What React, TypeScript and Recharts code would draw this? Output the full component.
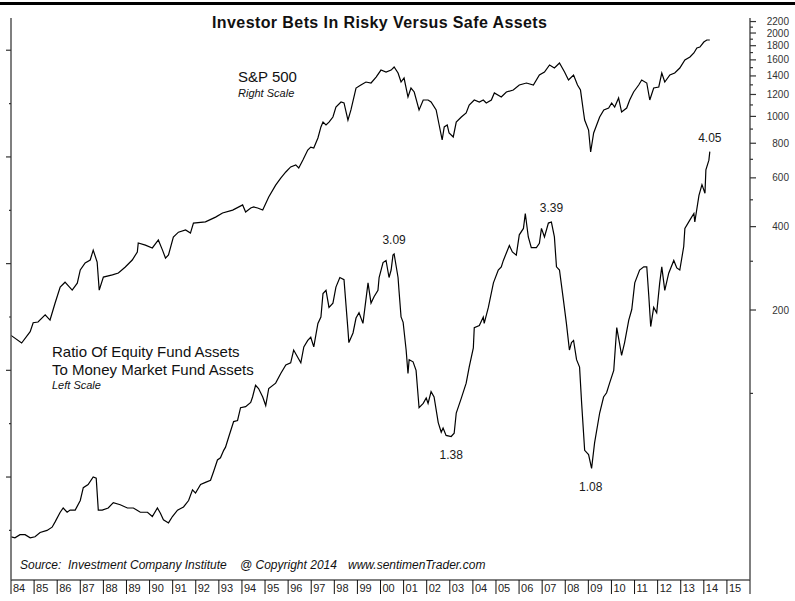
import React from "react";
import { ComposedChart, Line, XAxis, YAxis, ReferenceDot } from "recharts";

if (typeof document !== "undefined") {
  document.body.style.margin = "0";
}

// S&P 500 (right, log scale): [decimal year, index level]
const spxPoints: [number, number][] = [
  [1984.0, 162], [1984.46, 152], [1984.83, 167], [1984.96, 180], [1985.17, 181], [1985.48, 192], [1985.69, 184], [1985.91, 212],
  [1986.13, 242], [1986.34, 252], [1986.65, 236], [1986.87, 250], [1987.0, 279], [1987.21, 296], [1987.43, 303], [1987.56, 329],
  [1987.73, 298], [1987.82, 236], [1988.0, 263], [1988.39, 268], [1988.65, 272], [1988.95, 286], [1989.25, 303], [1989.47, 324],
  [1989.51, 349], [1989.82, 343], [1990.12, 335], [1990.38, 358], [1990.56, 329], [1990.69, 308], [1990.82, 316], [1991.03, 367],
  [1991.25, 382], [1991.56, 389], [1991.77, 379], [1991.9, 412], [1992.42, 416], [1992.86, 433], [1993.16, 448], [1993.6, 459],
  [1994.03, 479], [1994.16, 452], [1994.38, 467], [1994.51, 471], [1994.68, 467], [1994.9, 459], [1995.16, 512], [1995.46, 565],
  [1995.68, 599], [1995.9, 630], [1996.11, 657], [1996.33, 668], [1996.46, 651], [1996.64, 696], [1996.85, 756], [1996.98, 775],
  [1997.11, 769], [1997.29, 836], [1997.42, 916], [1997.51, 954], [1997.64, 931], [1997.77, 954], [1997.94, 995], [1998.07, 1081],
  [1998.29, 1127], [1998.42, 1118], [1998.59, 970], [1998.72, 1055], [1998.94, 1266], [1999.15, 1298], [1999.37, 1331], [1999.59, 1320],
  [1999.81, 1387], [2000.02, 1470], [2000.24, 1446], [2000.46, 1470], [2000.59, 1508], [2000.76, 1434], [2000.89, 1331], [2001.02, 1376],
  [2001.19, 1175], [2001.32, 1266], [2001.46, 1225], [2001.67, 1055], [2001.85, 1146], [2002.06, 1146], [2002.19, 1127], [2002.41, 1055],
  [2002.54, 931], [2002.67, 822], [2002.76, 916], [2002.89, 931], [2002.97, 871], [2003.15, 843], [2003.28, 954], [2003.5, 995],
  [2003.71, 1029], [2003.84, 1099], [2004.06, 1146], [2004.28, 1127], [2004.45, 1146], [2004.58, 1118], [2004.8, 1146], [2004.93, 1215],
  [2005.23, 1175], [2005.45, 1225], [2005.75, 1245], [2006.01, 1298], [2006.32, 1320], [2006.62, 1298], [2006.88, 1411], [2007.1, 1446],
  [2007.32, 1533], [2007.53, 1495], [2007.75, 1559], [2007.97, 1446], [2008.14, 1353], [2008.36, 1411], [2008.53, 1298], [2008.66, 1245],
  [2008.79, 1037], [2008.84, 970], [2009.01, 893], [2009.1, 744], [2009.23, 871], [2009.36, 931], [2009.49, 995], [2009.67, 1055],
  [2009.88, 1072], [2010.01, 1118], [2010.14, 1081], [2010.31, 1165], [2010.44, 1037], [2010.66, 1072], [2010.79, 1146], [2010.96, 1225],
  [2011.18, 1298], [2011.31, 1353], [2011.53, 1320], [2011.66, 1146], [2011.83, 1266], [2012.05, 1277], [2012.18, 1434], [2012.31, 1331],
  [2012.53, 1411], [2012.74, 1434], [2012.96, 1495], [2013.18, 1598], [2013.4, 1638], [2013.57, 1694], [2013.7, 1766], [2013.83, 1780],
  [2014.0, 1856], [2014.13, 1887], [2014.26, 1887],
];

// Ratio of equity fund assets to money market fund assets (left, linear): [decimal year, ratio]
const ratioPoints: [number, number][] = [
  [1984.0, 0.44], [1984.17, 0.43], [1984.39, 0.46], [1984.61, 0.46], [1984.83, 0.43], [1985.04, 0.44], [1985.26, 0.48], [1985.56, 0.5],
  [1985.78, 0.53], [1985.91, 0.58], [1986.13, 0.67], [1986.26, 0.71], [1986.43, 0.67], [1986.56, 0.69], [1986.78, 0.69], [1987.0, 0.78],
  [1987.13, 0.9], [1987.34, 0.93], [1987.56, 1.0], [1987.69, 0.99], [1987.78, 0.69], [1987.95, 0.69], [1988.21, 0.71], [1988.43, 0.76],
  [1988.73, 0.74], [1989.04, 0.71], [1989.3, 0.71], [1989.6, 0.67], [1989.91, 0.67], [1990.12, 0.63], [1990.34, 0.71], [1990.47, 0.66],
  [1990.6, 0.6], [1990.82, 0.57], [1990.99, 0.63], [1991.21, 0.69], [1991.47, 0.72], [1991.69, 0.78], [1991.86, 0.88], [1991.99, 0.85],
  [1992.21, 0.93], [1992.42, 0.95], [1992.64, 0.97], [1992.77, 1.05], [1992.94, 1.16], [1993.07, 1.18], [1993.21, 1.25], [1993.29, 1.28],
  [1993.42, 1.37], [1993.64, 1.52], [1993.81, 1.53], [1993.94, 1.65], [1994.16, 1.66], [1994.38, 1.7], [1994.46, 1.75], [1994.59, 1.86],
  [1994.72, 1.83], [1994.9, 1.75], [1995.03, 1.67], [1995.16, 1.83], [1995.46, 1.88], [1995.68, 1.97], [1995.9, 2.05], [1996.11, 2.07],
  [1996.24, 2.19], [1996.42, 2.12], [1996.55, 2.07], [1996.68, 2.22], [1996.85, 2.28], [1996.98, 2.31], [1997.11, 2.22], [1997.29, 2.44],
  [1997.42, 2.5], [1997.51, 2.72], [1997.64, 2.75], [1997.77, 2.59], [1997.94, 2.63], [1998.07, 2.78], [1998.24, 2.87], [1998.42, 2.85],
  [1998.59, 2.38], [1998.63, 2.26], [1998.81, 2.35], [1998.94, 2.49], [1999.07, 2.54], [1999.24, 2.44], [1999.46, 2.82], [1999.59, 2.63],
  [1999.72, 2.69], [1999.89, 2.75], [1999.94, 2.87], [2000.11, 3.01], [2000.24, 3.03], [2000.37, 2.87], [2000.46, 2.94], [2000.54, 3.08],
  [2000.59, 3.09], [2000.76, 2.87], [2000.8, 2.75], [2000.89, 2.5], [2000.98, 2.45], [2001.11, 2.19], [2001.19, 1.97], [2001.24, 2.1],
  [2001.41, 2.08], [2001.54, 2.0], [2001.67, 1.65], [2001.85, 1.69], [2001.98, 1.74], [2002.06, 1.69], [2002.19, 1.8], [2002.32, 1.75],
  [2002.5, 1.51], [2002.63, 1.42], [2002.71, 1.46], [2002.84, 1.39], [2003.06, 1.38], [2003.19, 1.41], [2003.28, 1.6], [2003.5, 1.74],
  [2003.71, 1.88], [2003.84, 2.03], [2004.02, 2.21], [2004.06, 2.4], [2004.28, 2.42], [2004.45, 2.5], [2004.49, 2.44], [2004.67, 2.59],
  [2004.89, 2.82], [2005.1, 2.94], [2005.23, 2.97], [2005.32, 3.03], [2005.45, 3.1], [2005.58, 3.17], [2005.71, 3.11], [2005.88, 3.08],
  [2006.01, 3.27], [2006.19, 3.33], [2006.27, 3.47], [2006.4, 3.25], [2006.53, 3.15], [2006.75, 3.15], [2006.88, 3.19], [2006.97, 3.33],
  [2007.1, 3.25], [2007.27, 3.38], [2007.4, 3.39], [2007.53, 3.25], [2007.62, 2.97], [2007.75, 2.94], [2007.92, 2.66], [2008.05, 2.44],
  [2008.18, 2.19], [2008.27, 2.26], [2008.36, 2.28], [2008.49, 2.1], [2008.62, 2.03], [2008.71, 1.69], [2008.84, 1.25], [2009.01, 1.21],
  [2009.14, 1.08], [2009.27, 1.32], [2009.49, 1.6], [2009.66, 1.75], [2009.79, 1.79], [2009.92, 1.88], [2010.1, 2.0], [2010.23, 2.4],
  [2010.36, 2.24], [2010.44, 2.14], [2010.57, 2.26], [2010.75, 2.47], [2010.88, 2.57], [2011.01, 2.82], [2011.22, 2.94], [2011.4, 2.97],
  [2011.53, 2.97], [2011.62, 2.69], [2011.7, 2.41], [2011.83, 2.59], [2011.96, 2.54], [2012.09, 2.82], [2012.18, 2.97], [2012.31, 2.75],
  [2012.48, 2.91], [2012.7, 3.03], [2012.83, 2.96], [2012.96, 2.94], [2013.13, 3.16], [2013.18, 3.33], [2013.4, 3.41], [2013.57, 3.47],
  [2013.61, 3.39], [2013.79, 3.64], [2013.92, 3.74], [2014.05, 3.66], [2014.09, 3.88], [2014.22, 3.97], [2014.26, 4.05],
];

const yearTicks = [
  1984, 1985, 1986, 1987, 1988, 1989, 1990, 1991, 1992, 1993, 1994, 1995, 1996, 1997, 1998, 1999, 2000,
  2001, 2002, 2003, 2004, 2005, 2006, 2007, 2008, 2009, 2010, 2011, 2012, 2013, 2014, 2015, 2016,
];
const leftTicks = [0.5, 1, 1.5, 2, 2.5, 3, 3.5, 4, 4.5, 5];
const leftMajor = [1, 2, 3, 4, 5];
const rightTicks = [
  100, 200, 300, 400, 500, 600, 700, 800, 900, 1000, 1100, 1200, 1300, 1400, 1500, 1600, 1700, 1800, 1900, 2000, 2100, 2200,
];
const rightLabels = [200, 400, 600, 800, 1000, 1200, 1400, 1600, 1800, 2000, 2200];

const ratioCallouts = [
  { t: 2000.59, v: 3.09, text: "3.09", side: "top" },
  { t: 2003.06, v: 1.38, text: "1.38", side: "bottom" },
  { t: 2007.4, v: 3.39, text: "3.39", side: "top" },
  { t: 2009.1, v: 1.08, text: "1.08", side: "bottom" },
  { t: 2014.26, v: 4.05, text: "4.05", side: "top" },
];

const spxData = spxPoints.map(([t, v]) => ({ t, v }));
const ratioData = ratioPoints.map(([t, v]) => ({ t, v }));

const FONT = "'Liberation Sans', Arial, Helvetica, sans-serif";

const YearTick = (props: any) => {
  const { x, y, payload } = props;
  const yr = payload.value as number;
  return (
    <g>
      <line x1={x} y1={y} x2={x} y2={y + 14} stroke="#111" strokeWidth={1} />
      {yr < 2016 && (
        <text x={x + 2} y={y + 12} fontSize={11} fill="#222" fontFamily={FONT}>
          {String(yr % 100).padStart(2, "0")}
        </text>
      )}
    </g>
  );
};

const LeftTick = (props: any) => {
  const { x, y, payload } = props;
  const major = leftMajor.includes(payload.value);
  return <line x1={x - (major ? 5 : 2)} y1={y} x2={x} y2={y} stroke="#333" strokeWidth={1.2} />;
};

const RightTick = (props: any) => {
  const { x, y, payload } = props;
  const major = rightLabels.includes(payload.value);
  return (
    <g>
      <line x1={x} y1={y} x2={x + (major ? 6 : 3)} y2={y} stroke="#333" strokeWidth={1.2} />
      {major && (
        <text x={x + 39} y={y} dy={3.5} textAnchor="end" fontSize={10} fill="#333" fontFamily={FONT}>
          {payload.value}
        </text>
      )}
    </g>
  );
};

export default function App() {
  return (
    <div style={{ position: "relative", width: 795, height: 601, background: "#fff", overflow: "hidden" }}>
      <div style={{ position: "absolute", left: 0, top: 2, width: 795, height: 3, background: "#000" }} />
      <ComposedChart width={795} height={601} margin={{ top: 18, right: 0, bottom: 0, left: 0 }}>
        <XAxis
          dataKey="t"
          type="number"
          domain={[1984, 2016]}
          ticks={yearTicks}
          interval={0}
          allowDataOverflow
          height={21}
          tickSize={0}
          tickMargin={0}
          tickLine={false}
          axisLine={{ stroke: "#555", strokeWidth: 1.5 }}
          tick={<YearTick />}
        />
        <YAxis
          yAxisId="left"
          orientation="left"
          type="number"
          domain={[0.035, 5.302]}
          allowDataOverflow
          ticks={leftTicks}
          interval={0}
          width={11}
          tickSize={0}
          tickMargin={0}
          tickLine={false}
          axisLine={{ stroke: "#555", strokeWidth: 1.5 }}
          tick={<LeftTick />}
        />
        <YAxis
          yAxisId="right"
          orientation="right"
          type="number"
          scale="log"
          domain={[21.2, 2266]}
          allowDataOverflow
          ticks={rightTicks}
          interval={0}
          width={45}
          tickSize={0}
          tickMargin={0}
          tickLine={false}
          axisLine={{ stroke: "#555", strokeWidth: 1.5 }}
          tick={<RightTick />}
        />
        <Line
          yAxisId="right"
          data={spxData}
          dataKey="v"
          type="linear"
          stroke="#000"
          strokeWidth={1.2}
          dot={false}
          isAnimationActive={false}
        />
        <Line
          yAxisId="left"
          data={ratioData}
          dataKey="v"
          type="linear"
          stroke="#000"
          strokeWidth={1.2}
          dot={false}
          isAnimationActive={false}
        />
        {ratioCallouts.map((c) => (
          <ReferenceDot
            key={c.text}
            yAxisId="left"
            x={c.t}
            y={c.v}
            r={0}
            fill="none"
            stroke="none"
            label={{
              value: c.text,
              position: c.side as any,
              offset: c.side === "top" ? 10 : 14,
              fontSize: 12,
              fill: "#1a1a1a",
              fontFamily: FONT,
            }}
          />
        ))}
      </ComposedChart>
      <svg width={795} height={601} style={{ position: "absolute", left: 0, top: 0, pointerEvents: "none" }}>
        <g fontFamily={FONT} fill="#111">
          <text x={212} y={28} fontSize={16} fontWeight="bold" textLength={335} lengthAdjust="spacing">
            Investor Bets In Risky Versus Safe Assets
          </text>
          <text x={238} y={82} fontSize={15}>S&amp;P 500</text>
          <text x={238} y={97} fontSize={11} fontStyle="italic">Right Scale</text>
          <text x={52} y={357} fontSize={15}>Ratio Of Equity Fund Assets</text>
          <text x={52} y={375} fontSize={15}>To Money Market Fund Assets</text>
          <text x={52} y={389} fontSize={11} fontStyle="italic">Left Scale</text>
          <text x={20} y={569} fontSize={12} fontStyle="italic">Source:</text>
          <text x={68} y={569} fontSize={12} fontStyle="italic">Investment Company Institute</text>
          <text x={240} y={569} fontSize={12} fontStyle="italic">@ Copyright 2014</text>
          <text x={348} y={569} fontSize={12} fontStyle="italic">www.sentimenTrader.com</text>
        </g>
      </svg>
    </div>
  );
}
